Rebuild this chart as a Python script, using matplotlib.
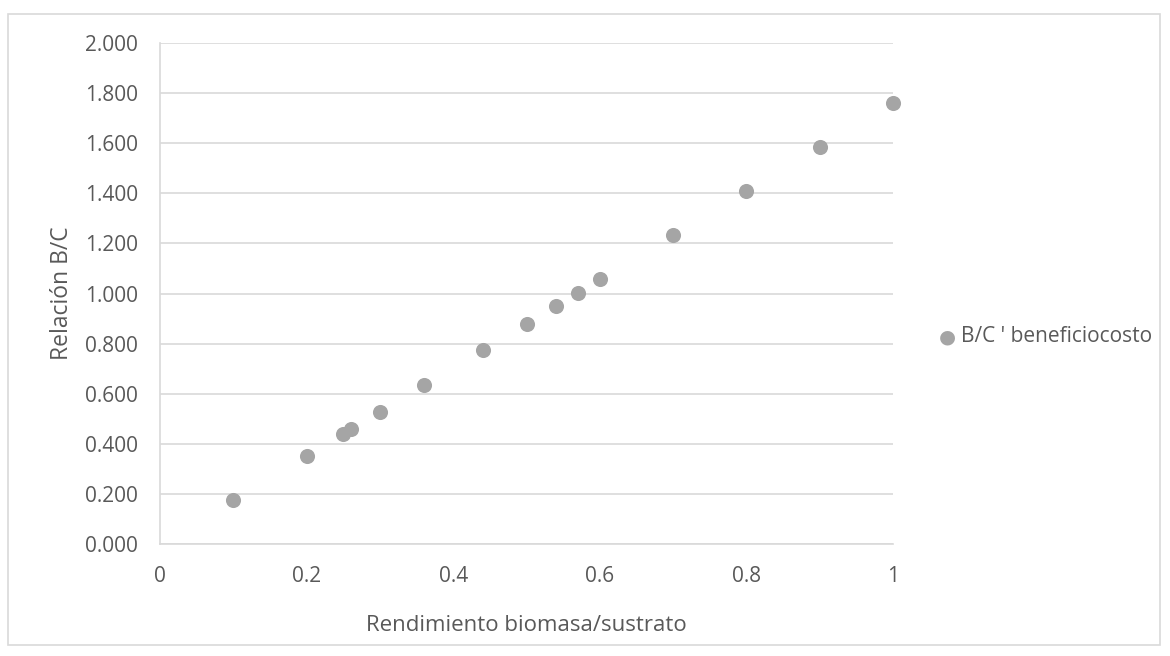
import matplotlib
matplotlib.use("Agg")
import matplotlib.pyplot as plt
from matplotlib.patches import Rectangle
from matplotlib.ticker import FixedLocator, FuncFormatter

# Rendimiento biomasa/sustrato vs relación beneficio/costo
rendimiento = [0.10, 0.20, 0.25, 0.26, 0.30, 0.36, 0.44, 0.50, 0.54, 0.57, 0.60, 0.70, 0.80, 0.90, 1.00]
relacion_bc = [0.176, 0.352, 0.440, 0.458, 0.528, 0.634, 0.774, 0.880, 0.950, 1.003, 1.056, 1.232, 1.408, 1.584, 1.760]

x_ticks = [0, 0.2, 0.4, 0.6, 0.8, 1]
x_tick_labels = ["0", "0.2", "0.4", "0.6", "0.8", "1"]
y_ticks = [0.0, 0.2, 0.4, 0.6, 0.8, 1.0, 1.2, 1.4, 1.6, 1.8, 2.0]

serie = "B/C ' beneficiocosto"
x_title = "Rendimiento biomasa/sustrato"
y_title = "Relación B/C"

text_color = "#595959"
grid_color = "#D9D9D9"
marker_color = "#A5A5A5"

plt.rcParams["font.family"] = ["Open Sans", "DejaVu Sans"]

fig = plt.figure(figsize=(11.70, 6.56), dpi=100)
fig.patches.append(Rectangle((8 / 1170, 1 - 645 / 656), 1152 / 1170, 631 / 656,
                             transform=fig.transFigure, fill=False,
                             edgecolor=grid_color, linewidth=1.2))

ax = fig.add_axes([160 / 1170, 1 - 544 / 656, 733 / 1170, 501 / 656])
ax.scatter(rendimiento, relacion_bc, s=118, color=marker_color, zorder=3,
           clip_on=False, linewidths=0)

ax.set_xlim(0, 1)
ax.set_ylim(0, 2)
ax.xaxis.set_major_locator(FixedLocator(x_ticks))
ax.set_xticklabels(x_tick_labels)
ax.yaxis.set_major_locator(FixedLocator(y_ticks))
ax.yaxis.set_major_formatter(FuncFormatter(lambda v, p: f"{v:.3f}"))

ax.grid(axis="y", color=grid_color, linewidth=1.2, zorder=0)
ax.set_axisbelow(True)
for side in ("top", "right"):
    ax.spines[side].set_visible(False)
for side in ("left", "bottom"):
    ax.spines[side].set_color(grid_color)
    ax.spines[side].set_linewidth(1.2)
ax.tick_params(length=0, labelsize=15, labelcolor=text_color)
ax.tick_params(axis="x", pad=16)
ax.tick_params(axis="y", pad=16)

ax.set_xlabel(x_title, fontsize=16, color=text_color, labelpad=20)
ax.set_ylabel(y_title, fontsize=16.5, color=text_color, labelpad=8)

# legend entry on the right
fig.text(947 / 1170, 1 - 337 / 656, "\u25CF", color=marker_color, fontsize=14,
         ha="center", va="center", family="DejaVu Sans")
fig.text(961 / 1170, 1 - 337 / 656, serie, color=text_color, fontsize=15,
         ha="left", va="center")

fig.savefig("out.png", dpi=100)
